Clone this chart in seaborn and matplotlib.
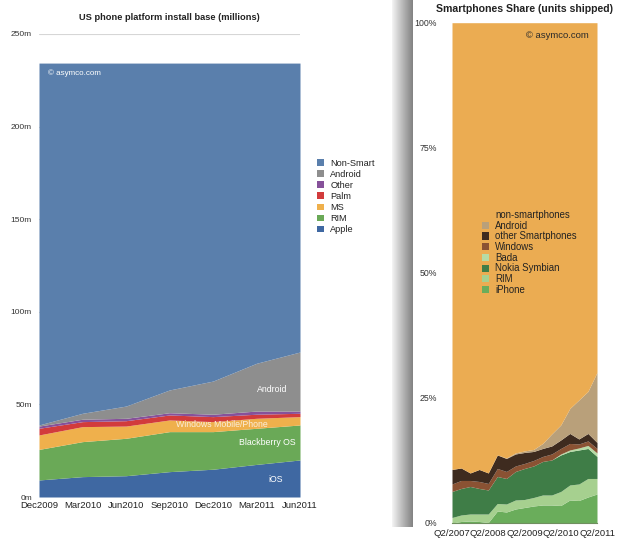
import numpy as np
import matplotlib
matplotlib.use("Agg")
import matplotlib.pyplot as plt
from matplotlib.patches import Patch
import seaborn as sns

sns.set_style("white")
plt.rcParams['font.family'] = ['Liberation Sans', 'DejaVu Sans']

# ---------------- Left chart data (millions) ----------------
us_dates = ["Dec2009", "Mar2010", "Jun2010", "Sep2010", "Dec2010", "Mar2011", "Jun2011"]
us_total = 234.3
us_apple = [9.2, 11.0, 11.5, 13.7, 15.0, 17.6, 20.0]
us_rim = [16.5, 18.9, 20.2, 21.6, 20.3, 19.5, 18.9]
us_ms = [7.8, 8.1, 6.6, 6.3, 5.4, 5.4, 4.5]
us_palm = [3.6, 2.7, 2.9, 2.7, 2.7, 2.2, 1.8]
us_other = [1.2, 1.3, 1.3, 1.2, 1.3, 1.7, 1.2]
us_android = [0.6, 3.2, 6.6, 12.3, 17.9, 25.8, 31.9]
us_series_names = ["Apple", "RIM", "MS", "Palm", "Other", "Android", "Non-Smart"]
us_colors = ["#3f68a2", "#6aa957", "#efb04c", "#d23b3c", "#86519a", "#8e8e8e", "#5a7fac"]

# ---------------- Right chart data (% of units shipped) ----------------
ww_quarters = ["Q2/2007", "Q3/2007", "Q4/2007", "Q1/2008", "Q2/2008", "Q3/2008", "Q4/2008",
               "Q1/2009", "Q2/2009", "Q3/2009", "Q4/2009", "Q1/2010", "Q2/2010", "Q3/2010",
               "Q4/2010", "Q1/2011", "Q2/2011"]
ww_iphone = [0.0, 0.3, 0.4, 0.3, 0.1, 2.4, 2.2, 2.8, 3.1, 3.4, 3.6, 3.6, 3.5, 4.6, 4.5, 5.2, 5.8]
ww_rim = [1.1, 1.3, 1.4, 1.5, 1.7, 1.5, 1.6, 1.8, 1.6, 1.7, 2.0, 2.0, 2.8, 3.0, 3.3, 3.7, 3.1]
ww_nokia = [5.2, 5.3, 5.5, 5.1, 4.8, 5.4, 5.1, 5.7, 6.2, 6.3, 6.7, 7.0, 7.3, 6.7, 6.8, 6.0, 4.4]
ww_bada = [0, 0, 0, 0, 0, 0, 0, 0, 0, 0, 0, 0, 0.2, 0.3, 0.4, 0.6, 0.7]
ww_windows = [1.5, 1.6, 1.2, 1.4, 1.3, 1.6, 1.4, 1.1, 1.0, 1.1, 1.0, 1.2, 1.1, 1.3, 0.8, 0.9, 0.9]
ww_other = [2.9, 2.5, 1.5, 2.4, 2.1, 2.7, 2.6, 2.4, 2.2, 1.8, 1.6, 1.6, 1.7, 2.0, 1.0, 1.5, 1.2]
ww_android = [0, 0, 0, 0, 0, 0, 0.1, 0.2, 0.3, 0.4, 1.0, 2.4, 3.0, 5.0, 7.8, 8.4, 14.0]
ww_series_names = ["iPhone", "RIM", "Nokia Symbian", "Bada", "Windows", "other Smartphones",
                   "Android", "non-smartphones"]
ww_colors = ["#6aad5b", "#a6d08f", "#3f7d47", "#b6dba4", "#8a5233", "#3e2b1f", "#b9a07a", "#ebac52"]

fig = plt.figure(figsize=(6.26, 5.46), dpi=100)
fig.patch.set_facecolor("white")
W, H = 626.0, 546.0

def fx(px):
    return px / W

def fy(py):
    return 1 - py / H

# ---------------- Left chart ----------------
axL = fig.add_axes([fx(39), fy(497), fx(300) - fx(39), fy(34) - fy(497)])
xL = np.arange(len(us_dates))
smart_top = np.array(us_apple) + np.array(us_rim) + np.array(us_ms) + np.array(us_palm) \
    + np.array(us_other) + np.array(us_android)
us_nonsmart = list(us_total - smart_top)
axL.stackplot(xL, us_apple, us_rim, us_ms, us_palm, us_other, us_android, us_nonsmart,
              colors=us_colors, linewidth=0, zorder=2)
axL.set_xlim(0, len(us_dates) - 1)
axL.set_ylim(0, 250)
axL.set_yticks([0, 50, 100, 150, 200, 250])
axL.set_yticklabels(["0m", "50m", "100m", "150m", "200m", "250m"], fontsize=6, color="#333333")
axL.set_xticks(xL)
axL.set_xticklabels(us_dates, fontsize=6.8, color="#222222")
axL.tick_params(axis="both", length=0, pad=5)
axL.tick_params(axis="x", pad=3)
axL.yaxis.grid(True, color="#d6d6d6", linewidth=0.8, zorder=0)
axL.set_axisbelow(True)
sns.despine(ax=axL, left=True, bottom=True)
axL.set_title("US phone platform install base (millions)", fontsize=6.7, fontweight="bold",
              color="#222222", pad=10)
axL.text(0.2, 229, "© asymco.com", color="white", fontsize=5.8, va="center", ha="left", zorder=5)
axL.text(5.36, 58.3, "Android", color="white", fontsize=6.3, ha="center", va="center", zorder=5)
axL.text(4.21, 39.4, "Windows Mobile/Phone", color="#fbeedd", fontsize=6.3, ha="center",
         va="center", zorder=5)
axL.text(5.26, 29.2, "Blackberry OS", color="white", fontsize=6.3, ha="center", va="center", zorder=5)
axL.text(5.43, 9.2, "iOS", color="white", fontsize=6.3, ha="center", va="center", zorder=5)

leg_order = list(range(len(us_series_names)))[::-1]
handles = [Patch(facecolor=us_colors[i], edgecolor="none") for i in leg_order]
labels = [us_series_names[i] for i in leg_order]
fig.legend(handles, labels, loc="upper left", bbox_to_anchor=(fx(317), fy(159)), frameon=False,
           fontsize=6.6, handlelength=0.75, handleheight=0.75, labelspacing=0.22,
           handletextpad=0.7, borderpad=0, borderaxespad=0, labelcolor="#222222")

# ---------------- Shadow between the panels ----------------
axS = fig.add_axes([fx(392), fy(527), fx(413) - fx(392), fy(0) - fy(527)])
grad = np.linspace(0.97, 0.62, 60) ** 1.4
axS.imshow(np.tile(grad, (10, 1)), cmap="gray", vmin=0, vmax=1, aspect="auto",
           interpolation="bicubic", extent=[0, 1, 0, 1])
axS.axis("off")

# ---------------- Right chart ----------------
axR = fig.add_axes([fx(452), fy(523), fx(597) - fx(452), fy(22.7) - fy(523)])
xR = np.arange(len(ww_quarters))
ww_smart = np.array(ww_iphone) + np.array(ww_rim) + np.array(ww_nokia) + np.array(ww_bada) \
    + np.array(ww_windows) + np.array(ww_other) + np.array(ww_android)
ww_non = list(100 - ww_smart)
axR.stackplot(xR, ww_iphone, ww_rim, ww_nokia, ww_bada, ww_windows, ww_other, ww_android, ww_non,
              colors=ww_colors, linewidth=0, zorder=2)
axR.set_xlim(0, len(ww_quarters) - 1)
axR.set_ylim(0, 100)
axR.set_yticks([0, 25, 50, 75, 100])
axR.set_yticklabels(["0%", "25%", "50%", "75%", "100%"], fontsize=6.3, color="#333333")
axR.set_xticks(xR[::4])
axR.set_xticklabels(ww_quarters[::4], fontsize=6.8, color="#222222")
axR.tick_params(axis="both", length=0)
axR.tick_params(axis="y", pad=11)
axR.tick_params(axis="x", pad=4)
sns.despine(ax=axR, left=True, top=True, right=True)
axR.spines["bottom"].set_color("#6f8f5f")
axR.spines["bottom"].set_linewidth(0.8)
axR.set_title("Smartphones Share (units shipped)", fontsize=7.6, fontweight="bold",
              color="#222222", pad=8)
axR.text(11.6, 97.4, "© asymco.com", color="#2a2a2a", fontsize=6.8, ha="center", va="center",
         zorder=5)

r_order = list(range(len(ww_series_names)))[::-1]
r_handles = [Patch(facecolor=ww_colors[i], edgecolor="none") for i in r_order]
r_labels = [ww_series_names[i] for i in r_order]
fig.legend(r_handles, r_labels, loc="upper left", bbox_to_anchor=(fx(482), fy(210)), frameon=False,
           fontsize=6.9, handlelength=0.75, handleheight=0.75, labelspacing=0.07,
           handletextpad=0.65, borderpad=0, borderaxespad=0, labelcolor="#222222")

fig.savefig("out.png", dpi=100, facecolor="white")
